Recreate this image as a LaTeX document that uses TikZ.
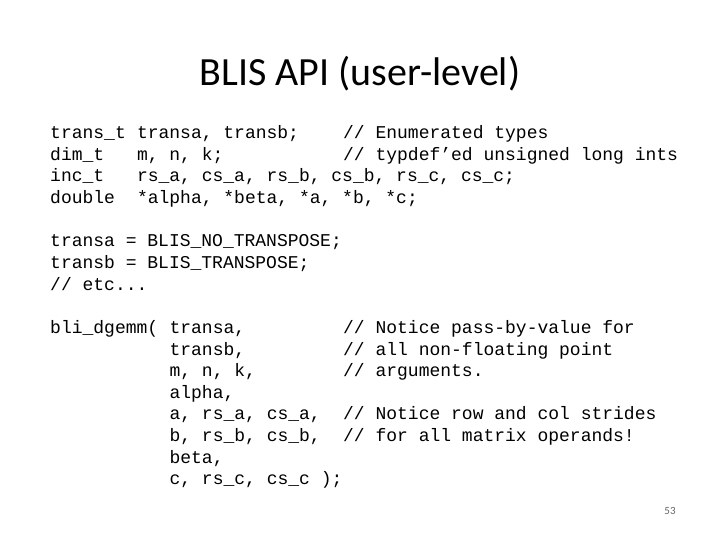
\documentclass[tikz,border=0pt]{standalone}
\usepackage{fontspec}
\setmainfont{Carlito}
\newfontfamily\codefont{Liberation Mono}
\begin{document}
\begin{tikzpicture}[x=1pt,y=-1pt,
  code/.style={anchor=base west,inner sep=0pt,font=\codefont\fontsize{18}{20}\selectfont}]
\useasboundingbox (0,0) rectangle (720,540);
\fill[white] (0,0) rectangle (720,540);
\node[font=\fontsize{40}{44}\selectfont,anchor=base] (title) at (360,86) {BLIS API (user-level)};
\def\cw{10.85}
\def\ln#1{138.5+21.65*#1}
% declarations
\node[code] (d1a) at (50,{\ln{0}}) {trans\_t};
\node[code] (d1b) at ({50+8*\cw},{\ln{0}}) {transa, transb;};
\node[code] (d1c) at ({50+27*\cw},{\ln{0}}) {// Enumerated types};
\node[code] (d2a) at (50,{\ln{1}}) {dim\_t};
\node[code] (d2b) at ({50+8*\cw},{\ln{1}}) {m, n, k;};
\node[code] (d2c) at ({50+27*\cw},{\ln{1}}) {// typdef’ed unsigned long ints};
\node[code] (d3a) at (50,{\ln{2}}) {inc\_t};
\node[code] (d3b) at ({50+8*\cw},{\ln{2}}) {rs\_a, cs\_a, rs\_b, cs\_b, rs\_c, cs\_c;};
\node[code] (d4a) at (50,{\ln{3}}) {double};
\node[code] (d4b) at ({50+8*\cw},{\ln{3}}) {*alpha, *beta, *a, *b, *c;};
% assignments
\node[code] (s1) at (50,{\ln{5}}) {transa = BLIS\_NO\_TRANSPOSE;};
\node[code] (s2) at (50,{\ln{6}}) {transb = BLIS\_TRANSPOSE;};
\node[code] (s3) at (50,{\ln{7}}) {// etc...};
% call
\node[code] (c0) at (50,{\ln{9}}) {bli\_dgemm(};
\node[code] (c1) at ({50+11*\cw},{\ln{9}}) {transa,};
\node[code] (c2) at ({50+11*\cw},{\ln{10}}) {transb,};
\node[code] (c3) at ({50+11*\cw},{\ln{11}}) {m, n, k,};
\node[code] (c4) at ({50+11*\cw},{\ln{12}}) {alpha,};
\node[code] (c5) at ({50+11*\cw},{\ln{13}}) {a, rs\_a, cs\_a,};
\node[code] (c6) at ({50+11*\cw},{\ln{14}}) {b, rs\_b, cs\_b,};
\node[code] (c7) at ({50+11*\cw},{\ln{15}}) {beta,};
\node[code] (c8) at ({50+11*\cw},{\ln{16}}) {c, rs\_c, cs\_c );};
\node[code] (m1) at ({50+27*\cw},{\ln{9}}) {// Notice pass-by-value for};
\node[code] (m2) at ({50+27*\cw},{\ln{10}}) {// all non-floating point};
\node[code] (m3) at ({50+27*\cw},{\ln{11}}) {// arguments.};
\node[code] (m4) at ({50+27*\cw},{\ln{13}}) {// Notice row and col strides};
\node[code] (m5) at ({50+27*\cw},{\ln{14}}) {// for all matrix operands!};
\node[anchor=base,font=\fontsize{11}{12}\selectfont,text=black!60] (pg) at (670,514) {53};
\end{tikzpicture}
\end{document}
